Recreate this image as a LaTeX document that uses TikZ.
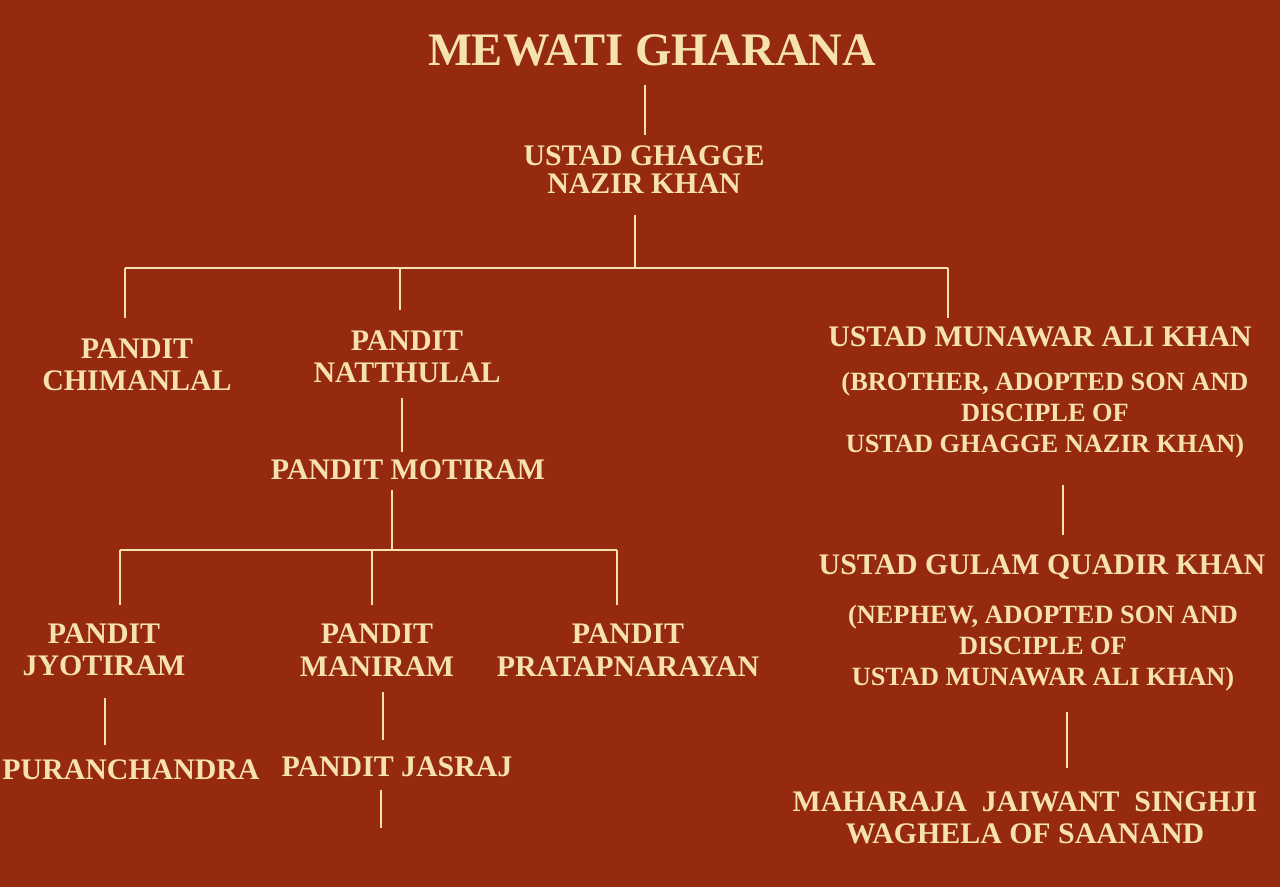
\documentclass[tikz,border=0pt]{standalone}
\usepackage{fontspec}
\setmainfont{Liberation Serif}
\usetikzlibrary{positioning}
\definecolor{bg}{RGB}{150,42,16}
\definecolor{cream}{RGB}{246,226,172}
\tikzset{
  person/.style={text=cream,font=\bfseries\fontsize{17}{18.5}\selectfont,align=center,inner sep=0pt},
  note/.style={text=cream,font=\bfseries\fontsize{15}{17.5}\selectfont,align=center,inner sep=0pt},
  link/.style={cream,line width=1.6pt}
}
\begin{document}
\begin{tikzpicture}[x=0.02cm,y=-0.02cm]
  \fill[bg] (0,0) rectangle (1280,887);
  \useasboundingbox (0,0) rectangle (1280,887);
  % names
  \node[person,font=\bfseries\fontsize{26.5}{28}\selectfont] (title) at (652,50) {MEWATI GHARANA};
  \node[person,font=\bfseries\fontsize{17}{16}\selectfont] (ghagge) at (644,170) {USTAD GHAGGE\\NAZIR KHAN};
  \node[person] (chimanlal) at (137,365) {PANDIT\\CHIMANLAL};
  \node[person] (natthulal) at (407,357) {PANDIT\\NATTHULAL};
  \node[person] (munawar) at (1040,337) {USTAD MUNAWAR ALI KHAN};
  \node[note] (munawarnote) at (1045,415) {(BROTHER, ADOPTED SON AND\\DISCIPLE OF\\USTAD GHAGGE NAZIR KHAN)};
  \node[person] (motiram) at (408,470) {PANDIT MOTIRAM};
  \node[person] (jyotiram) at (104,650) {PANDIT\\JYOTIRAM};
  \node[person] (maniram) at (377,650) {PANDIT\\MANIRAM};
  \node[person] (pratap) at (628,650) {PANDIT\\PRATAPNARAYAN};
  \node[person] (gulam) at (1042,567) {USTAD GULAM QUADIR KHAN};
  \node[note] (gulamnote) at (1043,648) {(NEPHEW, ADOPTED SON AND\\DISCIPLE OF\\USTAD MUNAWAR ALI KHAN)};
  \node[person] (puran) at (131,770) {PURANCHANDRA};
  \node[person] (jasraj) at (397,767) {PANDIT JASRAJ};
  \node[person] (maharaja) at (1025,818) {MAHARAJA\ \ JAIWANT\ \ SINGHJI\\WAGHELA OF SAANAND};
  % junctions
  \coordinate (top1) at (645,85);
  \coordinate (top2) at (645,135);
  \coordinate (g1) at (635,215);
  \coordinate (g2) at (635,268);
  \coordinate (bl) at (125,268);
  \coordinate (bm) at (400,268);
  \coordinate (br) at (948,268);
  \coordinate (n1) at (402,398);
  \coordinate (n2) at (402,452);
  \coordinate (m1) at (392,490);
  \coordinate (m2) at (392,550);
  \coordinate (cl) at (120,550);
  \coordinate (cm) at (372,550);
  \coordinate (cr) at (617,550);
  \coordinate (j1) at (105,698);
  \coordinate (j2) at (105,745);
  \coordinate (a1) at (383,692);
  \coordinate (a2) at (383,740);
  \coordinate (s1) at (381,790);
  \coordinate (s2) at (381,828);
  \coordinate (u1) at (1063,485);
  \coordinate (u2) at (1063,535);
  \coordinate (q1) at (1067,712);
  \coordinate (q2) at (1067,768);
  % lines
  \draw[link] (top1) -- (top2);
  \draw[link] (g1) -- (g2);
  \draw[link] (bl) -- (br);
  \draw[link] (bl) -- ++(0,50);
  \draw[link] (bm) -- ++(0,42);
  \draw[link] (br) -- ++(0,50);
  \draw[link] (n1) -- (n2);
  \draw[link] (m1) -- (m2);
  \draw[link] (cl) -- (cr);
  \draw[link] (cl) -- ++(0,55);
  \draw[link] (cm) -- ++(0,55);
  \draw[link] (cr) -- ++(0,55);
  \draw[link] (j1) -- (j2);
  \draw[link] (a1) -- (a2);
  \draw[link] (s1) -- (s2);
  \draw[link] (u1) -- (u2);
  \draw[link] (q1) -- (q2);
\end{tikzpicture}
\end{document}
